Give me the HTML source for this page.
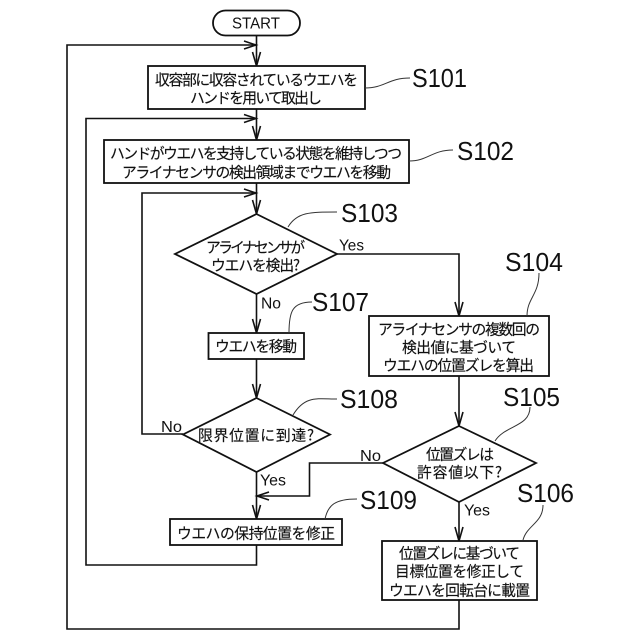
<!DOCTYPE html>
<html><head><meta charset="utf-8"><style>
html,body{margin:0;padding:0;background:#fff}
svg{display:block}
.l{fill:none;stroke:#111;stroke-width:1.6}
.b{fill:#fff;stroke:#111;stroke-width:1.8}
.a{fill:none;stroke:#111;stroke-width:1.6}
.d{fill:none;stroke:#333;stroke-width:1}
text{fill:#111;font-family:"Liberation Sans","Noto Sans CJK JP",sans-serif}
.t{font-size:14.8px;text-anchor:start;font-family:"Noto Sans CJK JP",sans-serif;stroke:#111;stroke-width:.15}
.s{font-size:25.5px}
.y{font-size:15.5px}
</style></head><body>
<svg width="640" height="640" viewBox="0 0 640 640" xmlns="http://www.w3.org/2000/svg">
<!-- connectors -->
<path class="l" d="M256.5 35V66M256.5 109V140M256.5 183V214M256.5 294V333M256.5 359V398M256.5 472V519"/>
<path class="l" d="M459 600V629H67V45H256"/>
<path class="l" d="M256.5 545V565H86V118.500H256"/>
<path class="l" d="M183 434H142V193H256"/>
<path class="l" d="M337 254H459V316"/>
<path class="l" d="M459 376V426M459 502V541"/>
<path class="l" d="M383 463H309.500V496H257"/>
<!-- arrowheads -->
<path class="a" d="M244 41L256 45L244 49M252.500 52L256.500 66L260.500 52"/>
<path class="a" d="M244 114.500L256 118.500L244 122.500M252.500 126L256.500 140L260.500 126"/>
<path class="a" d="M244 189L256 193L244 197M252.500 200L256.500 214L260.500 200"/>
<path class="a" d="M252.500 319L256.500 333L260.500 319M252.500 384L256.500 398L260.500 384"/>
<path class="a" d="M269 492L257 496L269 500M252.500 505L256.500 519L260.500 505"/>
<path class="a" d="M455 302L459 316L463 302M455 412L459 426L463 412M455 527L459 541L463 527"/>
<!-- shapes -->
<rect class="b" x="213" y="10.500" width="87" height="25" rx="12.500"/>
<rect class="b" x="148" y="66" width="217" height="43"/>
<rect class="b" x="104" y="140" width="305" height="43"/>
<polygon class="b" points="256.500,214 337,254 256.500,294 175,254"/>
<rect class="b" x="208.500" y="333" width="95.500" height="26"/>
<polygon class="b" points="256.500,398 330,434.500 256.500,472 183,434.500"/>
<rect class="b" x="170" y="519" width="172" height="26"/>
<rect class="b" x="369" y="316" width="180" height="60"/>
<polygon class="b" points="459,426 536,463 459,502 383,463"/>
<rect class="b" x="382" y="541" width="155" height="59"/>
<!-- leaders -->
<path class="d" d="M365 88C385 88 388 78 410 78"/>
<path class="d" d="M409 161C428 161 432 150 453 150"/>
<path class="d" d="M288 227C297 212 310 212 337 212"/>
<path class="d" d="M527 316C527 298 539 295 539 273"/>
<path class="d" d="M495 441C505 425 530 427 530 407"/>
<path class="d" d="M523 540C527 525 543 523 543 505"/>
<path class="d" d="M289 333C289 312 292 302 312 302"/>
<path class="d" d="M293 415C305 395 318 399 337 399"/>
<path class="d" d="M325 519C328 505 335 499 357 499"/>
<!-- node text -->
<text x="232" y="28.500" font-size="16" textLength="48" lengthAdjust="spacingAndGlyphs">START</text>
<text class="t" x="155" y="85" textLength="203">収容部に収容されているウエハを</text>
<text class="t" x="190" y="103" textLength="132">ハンドを用いて取出し</text>
<text class="t" x="110" y="158.500" textLength="292">ハンドがウエハを支持している状態を維持しつつ</text>
<text class="t" x="122" y="177.500" textLength="269">アライナセンサの検出領域までウエハを移動</text>
<text class="t" x="206" y="252.500" textLength="99">アライナセンサが</text>
<text class="t" x="211" y="270.500" textLength="89">ウエハを検出?</text>
<text class="t" x="215" y="351.500" textLength="82">ウエハを移動</text>
<text class="t" x="198" y="440.500" textLength="116">限界位置に到達?</text>
<text class="t" x="177" y="538.500" textLength="158">ウエハの保持位置を修正</text>
<text class="t" x="378" y="334.500" textLength="162">アライナセンサの複数回の</text>
<text class="t" x="402" y="352.500" textLength="114">検出値に基づいて</text>
<text class="t" x="383" y="370.500" textLength="151">ウエハの位置ズレを算出</text>
<text class="t" x="426" y="459.500" textLength="68">位置ズレは</text>
<text class="t" x="417" y="477.500" textLength="85">許容値以下?</text>
<text class="t" x="399" y="558.500" textLength="121">位置ズレに基づいて</text>
<text class="t" x="395" y="576.500" textLength="129">目標位置を修正して</text>
<text class="t" x="389" y="595.500" textLength="141">ウエハを回転台に載置</text>
<!-- step labels -->
<text class="s" x="412" y="87" textLength="55" lengthAdjust="spacingAndGlyphs">S101</text>
<text class="s" x="457" y="160" textLength="57" lengthAdjust="spacingAndGlyphs">S102</text>
<text class="s" x="341" y="222" textLength="57" lengthAdjust="spacingAndGlyphs">S103</text>
<text class="s" x="505" y="271" textLength="58" lengthAdjust="spacingAndGlyphs">S104</text>
<text class="s" x="503" y="406" textLength="57" lengthAdjust="spacingAndGlyphs">S105</text>
<text class="s" x="517" y="502" textLength="57" lengthAdjust="spacingAndGlyphs">S106</text>
<text class="s" x="312" y="311" textLength="57" lengthAdjust="spacingAndGlyphs">S107</text>
<text class="s" x="340" y="408" textLength="58" lengthAdjust="spacingAndGlyphs">S108</text>
<text class="s" x="360" y="509" textLength="57" lengthAdjust="spacingAndGlyphs">S109</text>
<!-- yes/no -->
<text class="y" x="339" y="250.500" textLength="25" lengthAdjust="spacingAndGlyphs">Yes</text>
<text class="y" x="261" y="308.500" textLength="20" lengthAdjust="spacingAndGlyphs">No</text>
<text class="y" x="161" y="432" textLength="21" lengthAdjust="spacingAndGlyphs">No</text>
<text class="y" x="260" y="485.500" textLength="26" lengthAdjust="spacingAndGlyphs">Yes</text>
<text class="y" x="360" y="461" textLength="21" lengthAdjust="spacingAndGlyphs">No</text>
<text class="y" x="464" y="515.500" textLength="26" lengthAdjust="spacingAndGlyphs">Yes</text>
</svg>
</body></html>
